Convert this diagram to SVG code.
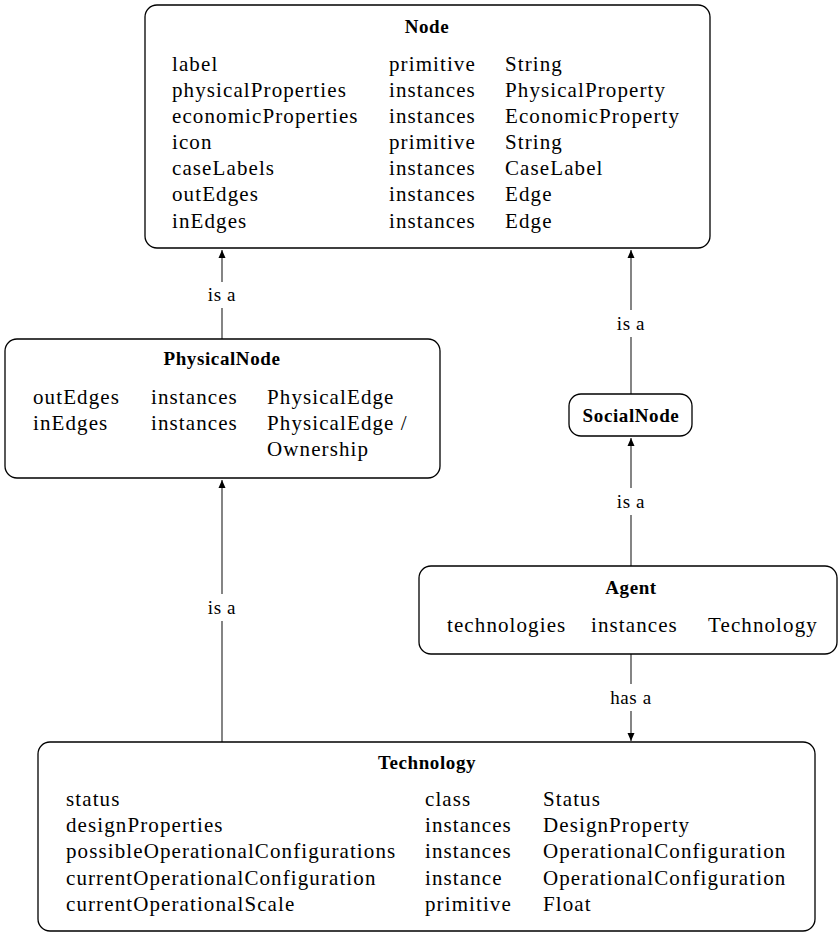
<svg xmlns="http://www.w3.org/2000/svg" width="838" height="933" viewBox="0 0 838 933">
  <style>
    .box { fill: #ffffff; stroke: #000000; stroke-width: 1.3; }
    text { font-family: "Liberation Serif", "Times New Roman", serif; fill: #000; }
    .title { font-weight: bold; font-size: 19px; letter-spacing: 0.6px; text-anchor: middle; }
    .txt { font-size: 21px; letter-spacing: 1.1px; }
    .lbl { font-size: 19px; letter-spacing: 0.6px; text-anchor: middle; }
    .edge { stroke: #333333; stroke-width: 1.2; fill: none; }
  </style>
  <defs>
    <marker id="arrow" viewBox="0 0 8 14" refX="8" refY="7" markerWidth="8" markerHeight="14" markerUnits="userSpaceOnUse" orient="auto">
      <path d="M0,3.5 L8,7 L0,10.5 Z" fill="#000"/>
    </marker>
  </defs>
  <rect width="838" height="933" fill="#ffffff"/>

  <!-- connectors -->
  <g id="connectors">
    <line class="edge" x1="222" y1="282" x2="222" y2="250" marker-end="url(#arrow)"/>
    <line class="edge" x1="222" y1="339" x2="222" y2="308"/>
    <text class="lbl" x="222" y="301">is a</text>

    <line class="edge" x1="631" y1="310" x2="631" y2="250" marker-end="url(#arrow)"/>
    <line class="edge" x1="631" y1="394" x2="631" y2="337"/>
    <text class="lbl" x="631" y="330">is a</text>

    <line class="edge" x1="631" y1="488" x2="631" y2="438" marker-end="url(#arrow)"/>
    <line class="edge" x1="631" y1="566" x2="631" y2="515"/>
    <text class="lbl" x="631" y="508">is a</text>

    <line class="edge" x1="222" y1="594" x2="222" y2="480" marker-end="url(#arrow)"/>
    <line class="edge" x1="222" y1="742" x2="222" y2="621"/>
    <text class="lbl" x="222" y="614">is a</text>

    <line class="edge" x1="631" y1="654" x2="631" y2="684"/>
    <line class="edge" x1="631" y1="711" x2="631" y2="741" marker-end="url(#arrow)"/>
    <text class="lbl" x="631" y="704">has a</text>
  </g>

  <!-- Node -->
  <g id="node-Node">
    <rect class="box" x="145" y="5" width="565" height="243" rx="12"/>
    <text class="title" x="427" y="33">Node</text>
    <text class="txt" x="172" y="71">label</text>
    <text class="txt" x="389" y="71">primitive</text>
    <text class="txt" x="505" y="71">String</text>
    <text class="txt" x="172" y="97">physicalProperties</text>
    <text class="txt" x="389" y="97">instances</text>
    <text class="txt" x="505" y="97">PhysicalProperty</text>
    <text class="txt" x="172" y="123">economicProperties</text>
    <text class="txt" x="389" y="123">instances</text>
    <text class="txt" x="505" y="123">EconomicProperty</text>
    <text class="txt" x="172" y="149">icon</text>
    <text class="txt" x="389" y="149">primitive</text>
    <text class="txt" x="505" y="149">String</text>
    <text class="txt" x="172" y="175">caseLabels</text>
    <text class="txt" x="389" y="175">instances</text>
    <text class="txt" x="505" y="175">CaseLabel</text>
    <text class="txt" x="172" y="201">outEdges</text>
    <text class="txt" x="389" y="201">instances</text>
    <text class="txt" x="505" y="201">Edge</text>
    <text class="txt" x="172" y="228">inEdges</text>
    <text class="txt" x="389" y="228">instances</text>
    <text class="txt" x="505" y="228">Edge</text>
  </g>

  <!-- PhysicalNode -->
  <g id="node-PhysicalNode">
    <rect class="box" x="5" y="339" width="435" height="139" rx="12"/>
    <text class="title" x="222" y="365">PhysicalNode</text>
    <text class="txt" x="33" y="404">outEdges</text>
    <text class="txt" x="151" y="404">instances</text>
    <text class="txt" x="267" y="404">PhysicalEdge</text>
    <text class="txt" x="33" y="430">inEdges</text>
    <text class="txt" x="151" y="430">instances</text>
    <text class="txt" x="267" y="430">PhysicalEdge /</text>
    <text class="txt" x="267" y="456">Ownership</text>
  </g>

  <!-- SocialNode -->
  <g id="node-SocialNode">
    <rect class="box" x="569" y="394" width="123" height="42" rx="12"/>
    <text class="title" x="631" y="422">SocialNode</text>
  </g>

  <!-- Agent -->
  <g id="node-Agent">
    <rect class="box" x="419" y="566" width="418" height="88" rx="12"/>
    <text class="title" x="631" y="594">Agent</text>
    <text class="txt" x="447" y="632">technologies</text>
    <text class="txt" x="591" y="632">instances</text>
    <text class="txt" x="708" y="632">Technology</text>
  </g>

  <!-- Technology -->
  <g id="node-Technology">
    <rect class="box" x="38" y="742" width="777" height="189" rx="12"/>
    <text class="title" x="427" y="769">Technology</text>
    <text class="txt" x="66" y="806">status</text>
    <text class="txt" x="425" y="806">class</text>
    <text class="txt" x="543" y="806">Status</text>
    <text class="txt" x="66" y="832">designProperties</text>
    <text class="txt" x="425" y="832">instances</text>
    <text class="txt" x="543" y="832">DesignProperty</text>
    <text class="txt" x="66" y="858">possibleOperationalConfigurations</text>
    <text class="txt" x="425" y="858">instances</text>
    <text class="txt" x="543" y="858">OperationalConfiguration</text>
    <text class="txt" x="66" y="885">currentOperationalConfiguration</text>
    <text class="txt" x="425" y="885">instance</text>
    <text class="txt" x="543" y="885">OperationalConfiguration</text>
    <text class="txt" x="66" y="911">currentOperationalScale</text>
    <text class="txt" x="425" y="911">primitive</text>
    <text class="txt" x="543" y="911">Float</text>
  </g>
</svg>
